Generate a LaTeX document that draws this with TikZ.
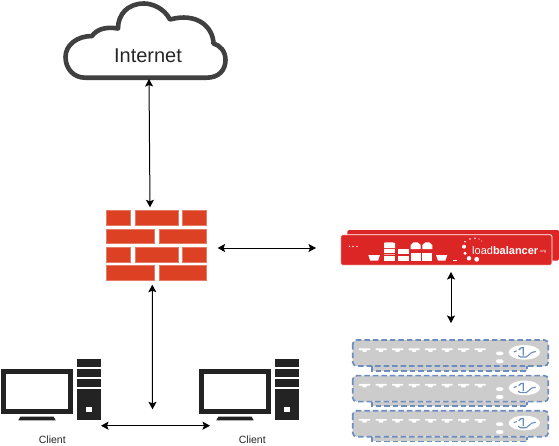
\documentclass[tikz,border=0pt]{standalone}
\usepackage{fontspec}
\setmainfont{Liberation Sans}
\usetikzlibrary{arrows.meta}
\definecolor{brick}{HTML}{DD4124}
\definecolor{lbred}{HTML}{DC2626}
\definecolor{srvblue}{HTML}{6C8EBF}
\definecolor{srvgray}{HTML}{CCCCCC}
\definecolor{pcdark}{HTML}{232323}
\definecolor{clouddark}{HTML}{404040}
\tikzset{
  anchorbox/.style={inner sep=0pt,outer sep=0pt,rectangle},
  conn/.style={draw=black,line width=1pt,{Stealth[length=7.5pt,width=8pt,inset=1.5pt]}-{Stealth[length=7.5pt,width=8pt,inset=1.5pt]}},
  brickrect/.style={fill=brick,draw=brick!70!white,line width=0.5pt},
  lblabel/.style={inner sep=0pt,text=white,anchor=west},
  clientlabel/.style={inner sep=0pt,font=\fontsize{10.5}{12}\selectfont,text=black!85},
  srvline/.style={draw=srvblue,line width=1.7pt,dash pattern=on 5.5pt off 3pt},
  client/.pic={
    \fill[pcdark] (1,369.3) rectangle (72.7,414);
    \fill[white] (5.7,374) rectangle (68.3,409.3);
    \fill[pcdark] (18.3,420.3) -- (20.5,416.5) -- (53.5,416.5) -- (55.7,420.3) -- cycle;
    \fill[pcdark] (77,359.3) rectangle (101,367);
    \fill[pcdark] (77,369) rectangle (101,377.3);
    \fill[pcdark] (77,379.3) rectangle (101,387.3);
    \fill[pcdark] (77,389.3) rectangle (101,420.3);
    \fill[white] (86,406.7) rectangle (91.7,412.3);
  },
  serverbox/.pic={
    \path[fill=srvgray,srvline] (19,26) -- (19,30.7) -- (174,30.7) -- (174,26);
    \path[fill=srvgray,srvline,rounded corners=4pt] (0,0) rectangle (195.6,26);
    \foreach \k in {0,...,7}{
      \fill[white] ({6.3+16.5*\k},8.3) -- ({17.3+16.5*\k},8.3) -- ({17.3+16.5*\k},10) -- ({14.3+16.5*\k},10) -- ({13.5+16.5*\k},11.8) -- ({10.1+16.5*\k},11.8) -- ({9.3+16.5*\k},10) -- ({6.3+16.5*\k},10) -- cycle;
    }
    \fill[white,rounded corners=1.5pt] (143.3,11.7) rectangle (150.7,15.2);
    \fill[white,rounded corners=1.5pt] (143.3,19.4) rectangle (150.7,23.2);
    \fill[white] (171.7,12.3) ellipse [x radius=15.7,y radius=7.3];
    \draw[srvblue,line width=1.1pt] (161,12) -- (164,10.8);
    \draw[srvblue,line width=1.3pt] (166,10) -- (168.5,7.8) -- (170.5,7.8) -- (170.5,15.5);
    \draw[srvblue,line width=1.1pt] (165.5,15.5) -- (167.5,17) -- (173.5,17) -- (176,15) -- (179,12.5) -- (183,11.5);
  }
}
\begin{document}
\begin{tikzpicture}[x=1pt,y=-1pt]
\useasboundingbox (0,0) rectangle (559,445);
% cloud
\draw[clouddark,fill=white,line width=4.6pt,line join=round]
  (85,77.7) -- (206.5,77.7)
  .. controls (219,77.7) and (225.5,70) .. (225.5,60)
  .. controls (225.5,51) and (220,45.5) .. (213.5,43.5)
  .. controls (213,27) and (197,12) .. (170,19.5)
  .. controls (164,8) and (152,3.5) .. (144,3.5)
  .. controls (128,3.5) and (118,14) .. (118,28.5)
  .. controls (106,26.5) and (97,29) .. (92,36)
  .. controls (77,36) and (65.5,45) .. (65.5,57)
  .. controls (65.5,69) and (74,77.7) .. (85,77.7) -- cycle;
\node[anchorbox,minimum width=161pt,minimum height=76pt] (internet) at (145.5,41) {};
\node[inner sep=0pt,font=\fontsize{20}{23}\selectfont,text=black!85] (internetlabel) at (148,55.5) {Internet};
% firewall
\node[anchorbox,minimum width=100pt,minimum height=70pt] (firewall) at (156.3,245.3) {};
\foreach \y/\h in {210.3/225.3,247.3/262}{
  \path[brickrect] (106.3,\y) rectangle (130,\h);
  \path[brickrect] (135,\y) rectangle (178,\h);
  \path[brickrect] (182.7,\y) rectangle (206.3,\h);
}
\foreach \y/\h in {229/243.7,265.7/280.3}{
  \path[brickrect] (106.3,\y) rectangle (154,\h);
  \path[brickrect] (159,\y) rectangle (206.3,\h);
}
% load balancer
\node[anchorbox,minimum width=218pt,minimum height=35pt] (lb) at (450,247.5) {};
\fill[lbred,rounded corners=1.5pt] (347.3,230) rectangle (559,260.7);
\path[fill=lbred,draw=white,line width=0.8pt,rounded corners=2pt] (340.7,234.7) rectangle (552,265.3);
\foreach \x in {349.5,353,357}{\fill[white] (\x,246.3) circle (0.8);}
\fill[white] (368.3,255) -- (380,255) -- (378,260.7) -- (370.3,260.7) -- cycle;
\fill[white] (436,255) -- (447.3,255) -- (445.3,260.7) -- (438,260.7) -- cycle;
\fill[white] (453,260) rectangle (456.7,261);
\fill[white] (384,243) -- (386,242.3) -- (392,242.3) -- (395,243) -- (395,248) -- (384,248) -- cycle;
\fill[white] (384,249) rectangle (395,253);
\fill[white,opacity=.6] (384,254) rectangle (395,255.3);
\fill[white] (384,256.3) rectangle (395,261);
\fill[white] (397.7,248.5) rectangle (409.3,254);
\fill[white] (397.7,256) rectangle (409.3,261);
\foreach \x in {410.7,422.3}{
  \fill[white] (\x,245) -- ({\x+3},242.3) -- ({\x+7},242.3) -- ({\x+10},245) -- ({\x+10},249) -- (\x,249) -- cycle;
  \fill[white] (\x,253) -- ({\x+10},253) -- ({\x+10},261) -- (\x,261) -- cycle;
}
\foreach \x/\y/\r in {465/241.7/0.9,470/239/0.9,475/238.3/0.9,479/239/0.7,481.7/241/0.5,464/246.7/2,465/253.3/1.7,469/258.3/2.2,476.7/259.3/2.4}{\fill[white] (\x,\y) circle (\r);}
\node[lblabel,font=\fontsize{11}{13}\selectfont] (lbname) at (472,250.2) {load\textbf{balancer}};
\node[lblabel,font=\fontsize{4}{5}\selectfont] (lborg) at (539,251.5) {.org};
% servers
\node[anchorbox,minimum width=195.6pt,minimum height=101pt] (servers) at (450.5,390.5) {};
\pic at (352.7,340) {serverbox};
\pic at (352.7,375.6) {serverbox};
\pic at (352.7,410.7) {serverbox};
% clients
\pic at (0,0) {client};
\pic at (198,0) {client};
\node[anchorbox,minimum width=100pt,minimum height=61pt] (clienta) at (51,389.8) {};
\node[anchorbox,minimum width=100pt,minimum height=61pt] (clientb) at (249,389.8) {};
\node[clientlabel] (labela) at (52.3,439.3) {Client};
\node[clientlabel] (labelb) at (252.3,439.3) {Client};
% connectors
\draw[conn] ([xshift=3.5pt]internet.south) -- ([xshift=-6.3pt,yshift=3pt]firewall.north);
\draw[conn] ([xshift=-4pt,yshift=-4.4pt]firewall.south) -- ([xshift=101.5pt,yshift=-50pt]clienta.north);
\draw[conn] ([xshift=11.3pt,yshift=-2.7pt]firewall.east) -- ([xshift=-25pt,yshift=-.5pt]lb.west);
\draw[conn] ([xshift=1pt,yshift=-7pt]lb.south) -- ([xshift=.5pt,yshift=17pt]servers.north);
\draw[conn] ([yshift=-5.4pt]clienta.south east) -- ([xshift=11pt,yshift=-5.4pt]clientb.south west);
\end{tikzpicture}
\end{document}
